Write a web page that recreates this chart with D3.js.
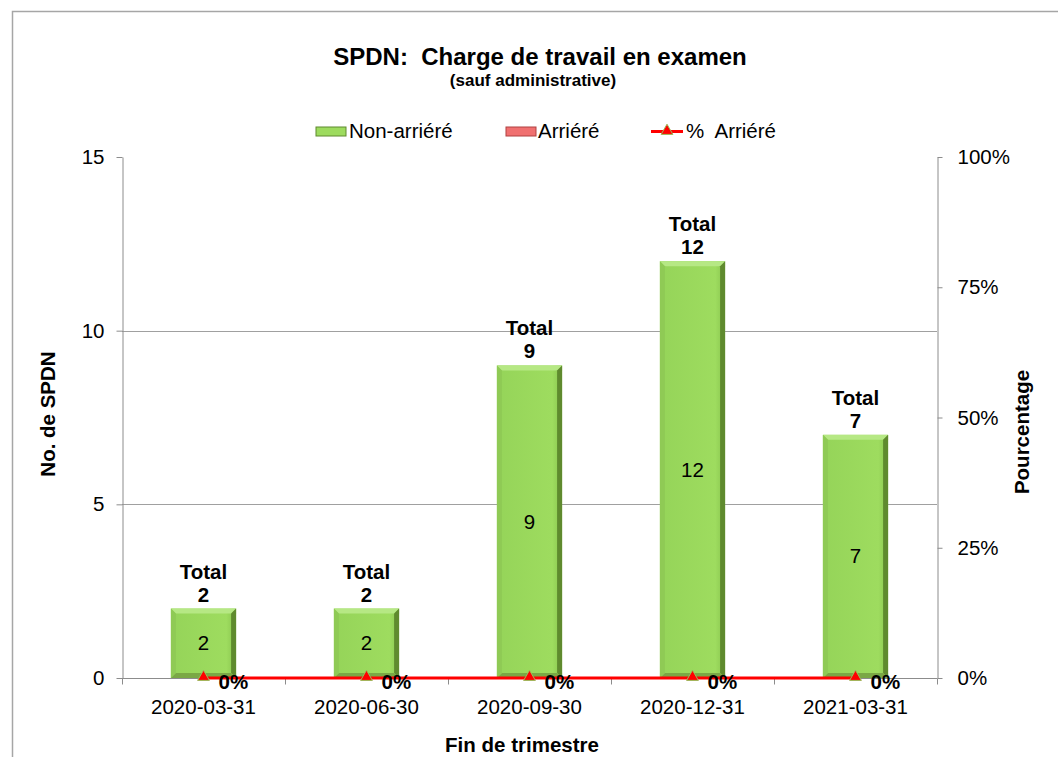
<!DOCTYPE html>
<html>
<head>
<meta charset="utf-8">
<script src="https://cdn.jsdelivr.net/npm/d3@7"></script>
<style>
  body { margin: 0; background: #fff; }
  svg { font-family: "Liberation Sans", Arial, sans-serif; }
</style>
</head>
<body>
<svg width="1058" height="757"></svg>
<script>
// data
const quarters = ["2020-03-31", "2020-06-30", "2020-09-30", "2020-12-31", "2021-03-31"];
const nonArriere = [2, 2, 9, 12, 7];
const arriere = [0, 0, 0, 0, 0];
const pctArriere = [0, 0, 0, 0, 0];
const leftTicks = [0, 5, 10, 15];
const rightTicks = [0, 0.25, 0.5, 0.75, 1];

const svg = d3.select("svg");
const fs = "20.5px";

// outer chart border (only top and left visible)
svg.append("path")
  .attr("d", "M12.5,757 V11.5 H1058")
  .attr("fill", "none")
  .attr("stroke", "#a6a6a6")
  .attr("stroke-width", 1.5);

// plot area
const plotLeft = 122, plotRight = 937, plotTop = 157, plotBottom = 678;

const x = d3.scaleBand()
  .domain(quarters)
  .range([plotLeft, plotRight])
  .paddingInner(0.6)
  .paddingOuter(0.3);

const y = d3.scaleLinear().domain([0, 15]).range([plotBottom, plotTop]);
const yPct = d3.scaleLinear().domain([0, 1]).range([plotBottom, plotTop]);

// gridlines
svg.append("g")
  .selectAll("line")
  .data(leftTicks.filter(d => d > 0 && d < 15)).enter().append("line")
  .attr("x1", plotLeft).attr("x2", plotRight)
  .attr("y1", d => Math.round(y(d)) + 0.5).attr("y2", d => Math.round(y(d)) + 0.5)
  .attr("stroke", "#a0a0a0");

// left axis
const yAxis = svg.append("g")
  .attr("transform", `translate(${plotLeft + 0.5},0)`)
  .call(d3.axisLeft(y).tickValues(leftTicks).tickSize(6).tickPadding(12).tickSizeOuter(0));
yAxis.select(".domain").attr("stroke", "#8c8c8c");
yAxis.selectAll("line").attr("stroke", "#8c8c8c");
yAxis.selectAll("text").attr("font-size", fs).attr("fill", "#000");

// right axis
const yAxisR = svg.append("g")
  .attr("transform", `translate(${plotRight + 0.5},0)`)
  .call(d3.axisRight(yPct).tickValues(rightTicks).tickFormat(d3.format(".0%")).tickSize(5).tickPadding(15).tickSizeOuter(0));
yAxisR.select(".domain").attr("stroke", "#8c8c8c");
yAxisR.selectAll("line").attr("stroke", "#8c8c8c");
yAxisR.selectAll("text").attr("font-size", fs).attr("fill", "#000");

// bottom axis, ticks between categories
const step = x.step();
const xAxis = svg.append("g")
  .attr("transform", `translate(0,${plotBottom + 0.5})`);
xAxis.append("line")
  .attr("x1", plotLeft).attr("x2", plotRight)
  .attr("stroke", "#8c8c8c");
xAxis.selectAll(".tk")
  .data(d3.range(quarters.length + 1)).enter().append("line")
  .attr("class", "tk")
  .attr("x1", i => plotLeft + i * step + 0.5).attr("x2", i => plotLeft + i * step + 0.5)
  .attr("y1", 0).attr("y2", 6)
  .attr("stroke", "#8c8c8c");
xAxis.selectAll("text")
  .data(quarters).enter().append("text")
  .attr("x", d => x(d) + x.bandwidth() / 2)
  .attr("y", 35)
  .attr("text-anchor", "middle")
  .attr("font-size", fs)
  .text(d => d);

// bar defs
const defs = svg.append("defs");
const grad = defs.append("linearGradient").attr("id", "barGrad")
  .attr("x1", 0).attr("x2", 1).attr("y1", 0).attr("y2", 0);
grad.append("stop").attr("offset", "0%").attr("stop-color", "#95d459");
grad.append("stop").attr("offset", "85%").attr("stop-color", "#9edc5f");
grad.append("stop").attr("offset", "100%").attr("stop-color", "#88c44e");

const bw = x.bandwidth();
const bev = 5;
const bars = svg.append("g").selectAll("g")
  .data(quarters).enter().append("g");

bars.append("rect")
  .attr("x", d => x(d))
  .attr("y", (d, i) => y(nonArriere[i]))
  .attr("width", bw)
  .attr("height", (d, i) => y(0) - y(nonArriere[i]))
  .attr("fill", "url(#barGrad)");

// bevel: top light, right dark, bottom dark
bars.append("path")
  .attr("d", (d, i) => {
    const x0 = x(d), x1 = x(d) + bw, y0 = y(nonArriere[i]);
    return `M${x0},${y0} L${x1},${y0} L${x1 - bev},${y0 + bev} L${x0 + bev},${y0 + bev} Z`;
  })
  .attr("fill", "#b6e884");
bars.append("path")
  .attr("d", (d, i) => {
    const x1 = x(d) + bw, y0 = y(nonArriere[i]), y1 = y(0);
    return `M${x1},${y0} L${x1},${y1} L${x1 - bev},${y1 - bev} L${x1 - bev},${y0 + bev} Z`;
  })
  .attr("fill", "#5f8a2e");
bars.append("path")
  .attr("d", (d, i) => {
    const x0 = x(d), x1 = x(d) + bw, y1 = y(0);
    return `M${x0},${y1} L${x1},${y1} L${x1 - bev},${y1 - bev} L${x0 + bev},${y1 - bev} Z`;
  })
  .attr("fill", "#7aa845");
bars.append("path")
  .attr("d", (d, i) => {
    const x0 = x(d), y0 = y(nonArriere[i]), y1 = y(0);
    return `M${x0},${y0} L${x0 + bev},${y0 + bev} L${x0 + bev},${y1 - bev} L${x0},${y1} Z`;
  })
  .attr("fill", "#8fca55");

// values inside bars
bars.append("text")
  .attr("x", d => x(d) + bw / 2)
  .attr("y", (d, i) => (y(nonArriere[i]) + y(0)) / 2 + 7)
  .attr("text-anchor", "middle")
  .attr("font-size", fs)
  .text((d, i) => nonArriere[i]);

// totals above bars
bars.append("text")
  .attr("x", d => x(d) + bw / 2)
  .attr("y", (d, i) => y(nonArriere[i] + arriere[i]) - 30)
  .attr("text-anchor", "middle")
  .attr("font-size", fs)
  .attr("font-weight", "bold")
  .text("Total");
bars.append("text")
  .attr("x", d => x(d) + bw / 2)
  .attr("y", (d, i) => y(nonArriere[i] + arriere[i]) - 7)
  .attr("text-anchor", "middle")
  .attr("font-size", fs)
  .attr("font-weight", "bold")
  .text((d, i) => nonArriere[i] + arriere[i]);

// % arriéré line
const line = d3.line()
  .x((d, i) => x(quarters[i]) + bw / 2)
  .y(d => yPct(d));
svg.append("path")
  .attr("d", line(pctArriere))
  .attr("fill", "none")
  .attr("stroke", "#ff0000")
  .attr("stroke-width", 3);

const tri = d3.symbol().type(d3.symbolTriangle).size(60);
svg.append("g").selectAll("path")
  .data(pctArriere).enter().append("path")
  .attr("transform", (d, i) => `translate(${x(quarters[i]) + bw / 2},${yPct(d) - 1})`)
  .attr("d", tri)
  .attr("fill", "#ff0000")
  .attr("stroke", "#9bbb59")
  .attr("stroke-width", 1);

svg.append("g").selectAll("text")
  .data(pctArriere).enter().append("text")
  .attr("x", (d, i) => x(quarters[i]) + bw / 2 + 15)
  .attr("y", d => yPct(d) + 11)
  .attr("font-size", fs)
  .attr("font-weight", "bold")
  .text(d => d3.format(".0%")(d));

// titles
svg.append("text")
  .attr("x", 540).attr("y", 65)
  .attr("text-anchor", "middle")
  .attr("font-size", "24px")
  .attr("font-weight", "bold")
  .style("white-space", "pre")
  .text("SPDN:  Charge de travail en examen");
svg.append("text")
  .attr("x", 533).attr("y", 86)
  .attr("text-anchor", "middle")
  .attr("font-size", "17px")
  .attr("font-weight", "bold")
  .text("(sauf administrative)");

svg.append("text")
  .attr("transform", "translate(55,414) rotate(-90)")
  .attr("text-anchor", "middle")
  .attr("font-size", fs)
  .attr("font-weight", "bold")
  .text("No. de SPDN");
svg.append("text")
  .attr("transform", "translate(1029,432) rotate(-90)")
  .attr("text-anchor", "middle")
  .attr("font-size", fs)
  .attr("font-weight", "bold")
  .text("Pourcentage");
svg.append("text")
  .attr("x", 522).attr("y", 752)
  .attr("text-anchor", "middle")
  .attr("font-size", fs)
  .attr("font-weight", "bold")
  .text("Fin de trimestre");

// legend
const lg = svg.append("g").attr("transform", "translate(0,131)");
lg.append("rect").attr("x", 316).attr("y", -4).attr("width", 30).attr("height", 9)
  .attr("fill", "#9ddb5e").attr("stroke", "#5f8a2e");
lg.append("text").attr("x", 349).attr("y", 7).attr("font-size", fs).text("Non-arriéré");
lg.append("rect").attr("x", 506).attr("y", -4).attr("width", 30).attr("height", 9)
  .attr("fill", "#f07070").attr("stroke", "#b04040");
lg.append("text").attr("x", 538).attr("y", 7).attr("font-size", fs).text("Arriéré");
lg.append("line").attr("x1", 651).attr("x2", 683).attr("y1", 0.5).attr("y2", 0.5)
  .attr("stroke", "#ff0000").attr("stroke-width", 3);
lg.append("path").attr("transform", "translate(667,0)").attr("d", tri)
  .attr("fill", "#ff0000").attr("stroke", "#9bbb59");
lg.append("text").attr("x", 686).attr("y", 7).attr("font-size", fs)
  .style("white-space", "pre").text("%  Arriéré");
</script>
</body>
</html>
